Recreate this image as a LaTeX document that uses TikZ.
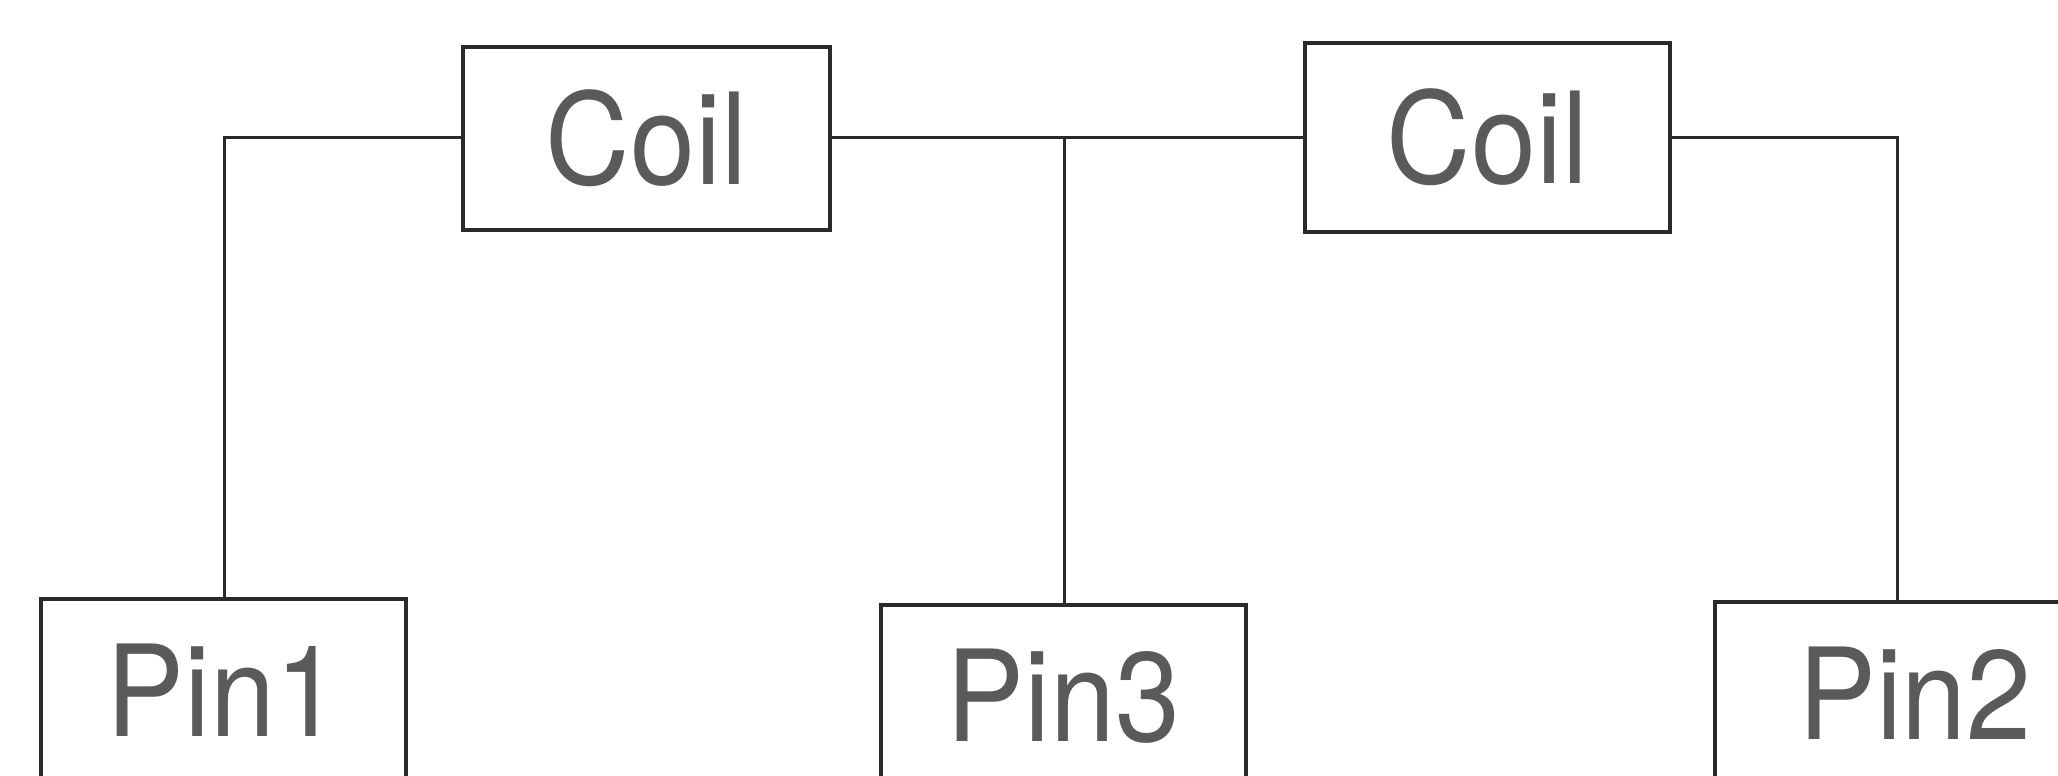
\documentclass[tikz,border=0pt]{standalone}
\usepackage{fontspec}
\newfontfamily\labfont[FakeStretch=0.92]{TeX Gyre Heros}
\definecolor{linec}{HTML}{2A2A2A}
\definecolor{textc}{HTML}{5A5A5A}
\tikzset{
  part/.style={draw=linec, line width=3.6pt, fill=white, inner sep=0pt,
    minimum width=365pt, minimum height=183pt,
    font=\labfont\fontsize{127}{127}\selectfont, text=textc},
  wire/.style={draw=linec, line width=3pt}
}
\begin{document}
\begin{tikzpicture}[x=1pt,y=-1pt]
\useasboundingbox (0,0) rectangle (2058,776);
\node[part, minimum width=367pt] (coilA) at (646.5,138.5) {Coil};
\node[part, minimum height=189pt] (coilB) at (1487.5,137.5) {Coil};
\node[part] (pin1) at (223.5,690.5) {Pin1};
\node[part] (pin3) at (1063.5,696.5) {Pin3};
\node[part, minimum width=400pt] (pin2) at (1915,693.5) {Pin2};
\coordinate (cornerL) at (224,137);
\coordinate (junc) at (1064,137);
\coordinate (cornerR) at (1897,137);
\draw[wire] (coilA.west |- cornerL) -- (cornerL) -- (cornerL |- pin1.north);
\draw[wire] (coilA.east |- junc) -- (coilB.west |- junc);
\draw[wire] (junc) -- (junc |- pin3.north);
\draw[wire] (coilB.east |- cornerR) -- (cornerR) -- (cornerR |- pin2.north);
\end{tikzpicture}
\end{document}
